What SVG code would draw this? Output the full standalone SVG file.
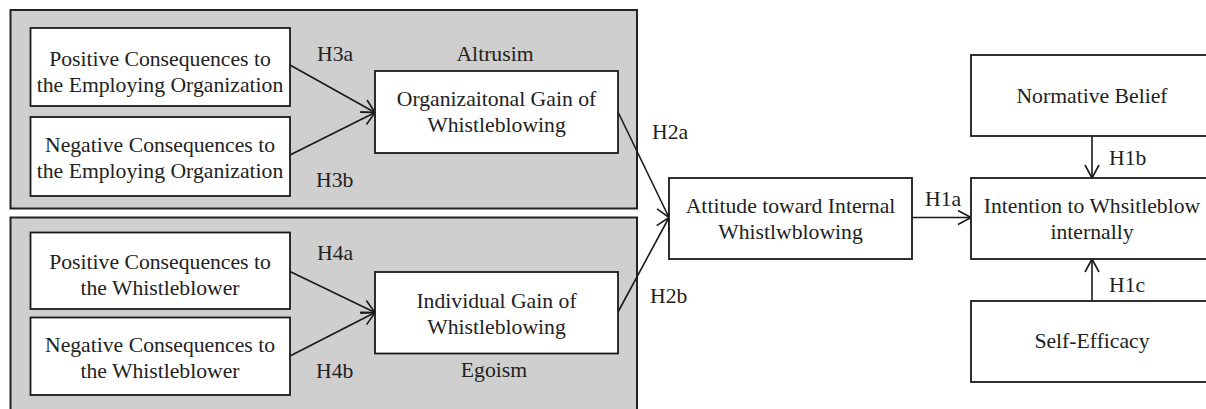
<svg xmlns="http://www.w3.org/2000/svg" width="1206" height="409" viewBox="0 0 1206 409">
<style>
.panel{fill:#cfcfcf;stroke:#222;stroke-width:2}
.box{fill:#fff;stroke:#1a1a1a;stroke-width:1.8}
text{font-size:21.7px;fill:#222}
.c{text-anchor:middle}
.edge{stroke:#1a1a1a;stroke-width:1.6;fill:none;marker-end:url(#arr)}
</style>
<defs>
<marker id="arr" markerUnits="userSpaceOnUse" viewBox="-14 -8 16 16" markerWidth="16" markerHeight="16" refX="0" refY="0" orient="auto">
<path d="M-13,-7 L0,0 L-13,7" fill="none" stroke="#1a1a1a" stroke-width="1.6"/>
</marker>
</defs>
<rect width="1206" height="409" fill="#fff"/>
<g font-family="'Liberation Serif', 'Times New Roman', serif">
<g id="panel-altruism">
<rect class="panel" x="10.5" y="10" width="626.5" height="198.5"/>
<text class="c" x="495" y="61">Altrusim</text>
</g>
<g id="panel-egoism">
<rect class="panel" x="10.5" y="217.5" width="626.5" height="196"/>
<text class="c" x="494" y="377">Egoism</text>
</g>
<g id="connectors">
<line class="edge" x1="290" y1="65" x2="375" y2="112.5"/>
<line class="edge" x1="290" y1="155" x2="375" y2="112.5"/>
<line class="edge" x1="290" y1="271.5" x2="375" y2="312.5"/>
<line class="edge" x1="290" y1="356" x2="375" y2="312.5"/>
<line class="edge" x1="618" y1="112" x2="669" y2="217.5"/>
<line class="edge" x1="618" y1="312" x2="669" y2="217.5"/>
<line class="edge" x1="912" y1="217.5" x2="971" y2="217.5"/>
<line class="edge" x1="1092" y1="136" x2="1092" y2="178"/>
<line class="edge" x1="1092" y1="301" x2="1092" y2="259"/>
<text x="317" y="61">H3a</text>
<text x="316" y="187">H3b</text>
<text x="317" y="260">H4a</text>
<text x="316" y="378">H4b</text>
<text x="652" y="139">H2a</text>
<text x="650" y="303">H2b</text>
<text x="925" y="206">H1a</text>
<text x="1109" y="165">H1b</text>
<text x="1109" y="292">H1c</text>
</g>
<g id="pos-org">
<rect class="box" x="30.5" y="28" width="259.5" height="78"/>
<text class="c" x="160" y="66">Positive Consequences to</text>
<text class="c" x="160" y="92">the Employing Organization</text>
</g>
<g id="neg-org">
<rect class="box" x="30.5" y="117" width="259.5" height="79"/>
<text class="c" x="160" y="152">Negative Consequences to</text>
<text class="c" x="160" y="178">the Employing Organization</text>
</g>
<g id="pos-wb">
<rect class="box" x="30.5" y="232.5" width="259.5" height="76.5"/>
<text class="c" x="160" y="269">Positive Consequences to</text>
<text class="c" x="160" y="295">the Whistleblower</text>
</g>
<g id="neg-wb">
<rect class="box" x="30.5" y="317.5" width="259.5" height="77.5"/>
<text class="c" x="160" y="352">Negative Consequences to</text>
<text class="c" x="160" y="378">the Whistleblower</text>
</g>
<g id="org-gain">
<rect class="box" x="375" y="71" width="243" height="82"/>
<text class="c" x="496.5" y="106">Organizaitonal Gain of</text>
<text class="c" x="496.5" y="132">Whistleblowing</text>
</g>
<g id="ind-gain">
<rect class="box" x="375" y="272" width="243" height="81.5"/>
<text class="c" x="496.5" y="307.5">Individual Gain of</text>
<text class="c" x="496.5" y="333.5">Whistleblowing</text>
</g>
<g id="attitude">
<rect class="box" x="669" y="178" width="243" height="81"/>
<text class="c" x="790.5" y="213">Attitude toward Internal</text>
<text class="c" x="790.5" y="239">Whistlwblowing</text>
</g>
<g id="normative">
<rect class="box" x="971" y="55" width="242" height="81"/>
<text class="c" x="1092" y="103">Normative Belief</text>
</g>
<g id="intention">
<rect class="box" x="971" y="178" width="242" height="81"/>
<text class="c" x="1092" y="213">Intention to Whsitleblow</text>
<text class="c" x="1092" y="238.5">internally</text>
</g>
<g id="self-efficacy">
<rect class="box" x="971" y="301" width="242" height="81"/>
<text class="c" x="1092" y="348">Self-Efficacy</text>
</g>
</g>
</svg>
